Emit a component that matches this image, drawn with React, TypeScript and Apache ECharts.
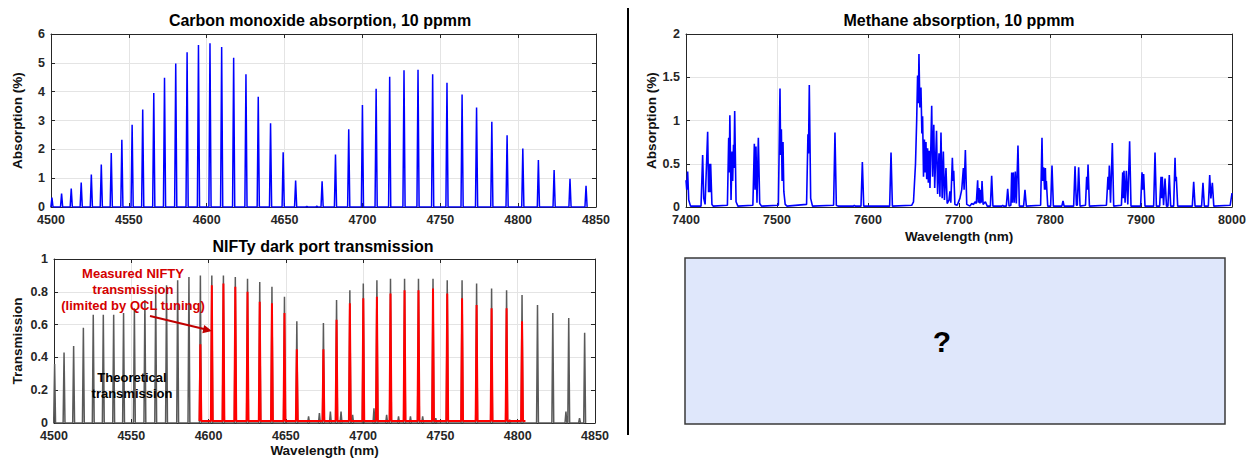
import React, { useEffect, useRef } from 'react';
import * as echarts from 'echarts';

const FONT = '"Liberation Sans", Arial, sans-serif';

// Carbon monoxide absorption lines (nm, % absorption)
const coLineNm = [
  4500.6, 4506.8, 4513.0, 4519.4, 4525.9, 4532.3, 4538.7, 4545.5, 4552.1, 4558.9, 4566.0, 4572.9,
  4580.1, 4587.4, 4594.7, 4602.1, 4609.6, 4617.3, 4625.2, 4633.1, 4641.0, 4649.1, 4657.1, 4664.3,
  4670.7, 4674.1, 4682.7, 4691.2, 4700.0, 4708.8, 4717.5, 4726.7, 4735.7, 4745.1, 4754.3, 4764.0,
  4773.3, 4783.1, 4792.9, 4803.0, 4813.0, 4823.1, 4833.3, 4843.6,
];
const coLinePct = [
  0.33, 0.47, 0.64, 0.85, 1.13, 1.47, 1.87, 2.33, 2.85, 3.38, 3.95, 4.48,
  4.98, 5.37, 5.62, 5.68, 5.55, 5.18, 4.6, 3.82, 2.9, 1.9, 0.92, 0.02,
  0.03, 0.89, 1.82, 2.7, 3.54, 4.1, 4.52, 4.74, 4.76, 4.6, 4.31, 3.9,
  3.45, 2.96, 2.49, 2.03, 1.63, 1.28, 0.98, 0.74,
];

// NIFTy theoretical transmission (grey)
const theoryNm = [
  4500.4, 4506.5, 4512.7, 4519.0, 4525.4, 4531.9, 4538.6, 4545.0, 4552.0, 4558.8, 4565.8, 4572.8,
  4580.0, 4587.3, 4594.7, 4602.1, 4609.6, 4617.3, 4625.2, 4633.1, 4641.0, 4649.1, 4657.1,
  4664.7, 4671.7, 4674.3, 4678.8, 4682.8, 4685.7, 4691.4, 4693.2, 4700.1, 4707.0, 4708.9, 4715.2,
  4717.7, 4722.9, 4726.8, 4730.6, 4735.8, 4738.5, 4745.2, 4747.0, 4754.4, 4764.0, 4773.4, 4783.1,
  4792.8, 4794.8, 4802.8, 4812.8, 4822.7, 4831.2, 4833.0, 4840.0, 4843.3,
];
const theoryT = [
  0.36, 0.43, 0.47, 0.58, 0.66, 0.66, 0.66, 0.67, 0.7, 0.75, 0.8, 0.84,
  0.87, 0.89, 0.9, 0.9, 0.9, 0.89, 0.88, 0.86, 0.83, 0.77, 0.62,
  0.04, 0.06, 0.61, 0.07, 0.75, 0.07, 0.81, 0.05, 0.85, 0.09, 0.87, 0.05,
  0.88, 0.04, 0.88, 0.04, 0.88, 0.04, 0.88, 0.03, 0.87, 0.87, 0.85, 0.82,
  0.81, 0.02, 0.78, 0.72, 0.67, 0.07, 0.64, 0.03, 0.55,
];

// NIFTy measured transmission (red)
const measuredNm = [
  4594.7, 4602.1, 4609.6, 4617.3, 4625.2, 4633.1, 4641.0, 4649.1, 4657.1,
  4674.3, 4682.8, 4691.4, 4700.1, 4708.9, 4717.7, 4726.8, 4735.8, 4745.2, 4754.4, 4764.0,
  4773.4, 4783.1, 4792.8, 4802.8,
];
const measuredT = [
  0.48, 0.84, 0.85, 0.83, 0.8, 0.74, 0.73, 0.67, 0.45,
  0.45, 0.63, 0.73, 0.76, 0.77, 0.79, 0.81, 0.81, 0.82, 0.79, 0.76,
  0.72, 0.7, 0.7, 0.62,
];

// Methane absorption trace (nm, %)
const methaneTrace: number[][] = [
  [7400, 0.31], [7400.8, 0.2], [7401.8, 0.41], [7403, 0.08], [7405, 0.01], [7416.5, 0.01],
  [7418.3, 0.6], [7419.5, 0.1], [7421, 0.03], [7423.8, 0.87], [7424.8, 0.17], [7425.6, 0.5],
  [7426.3, 0.17], [7427.1, 0.5], [7428.5, 0.03], [7430, 0.01], [7445.5, 0.02], [7446.9, 0.8],
  [7447.5, 0.4], [7448.2, 1.06], [7449.5, 0.08], [7450.6, 0.64], [7451.3, 0.3], [7452.2, 0.72],
  [7452.7, 0.45], [7453.5, 1.11], [7455, 0.06], [7457, 0.01], [7473.5, 0.02], [7475.1, 0.73],
  [7475.9, 0.2], [7476.9, 0.7], [7478, 0.05], [7479.5, 0.8], [7481, 0.04], [7483, 0.01],
  [7501.5, 0.02], [7503.3, 1.37], [7504, 0.6], [7504.8, 0.9], [7505.6, 0.3], [7506.6, 0.75],
  [7507.5, 0.18], [7509, 0.03], [7511, 0.01], [7532.5, 0.03], [7534, 0.84], [7534.6, 0.62],
  [7535.5, 1.41], [7537, 0.1], [7539, 0.01], [7562.2, 0.02], [7563.7, 0.86], [7565.2, 0.02],
  [7567, 0.01], [7584, 0.01], [7585, 0.02], [7586, 0.01], [7592.3, 0.01], [7593.8, 0.52],
  [7595.3, 0.01], [7623.8, 0.01], [7625.3, 0.63], [7626.8, 0.01], [7648, 0.02], [7650, 0.06],
  [7652.2, 0.5], [7653.5, 1.0], [7654.5, 1.52], [7655.3, 1.2], [7656.0, 1.77], [7657.0, 1.15],
  [7658.2, 1.38], [7659.2, 0.85], [7660.0, 1.05], [7661.0, 0.35], [7662.0, 0.78], [7662.8, 0.4],
  [7663.7, 0.75], [7664.5, 0.32], [7665.5, 0.68], [7666.3, 0.28], [7667.2, 0.65], [7668.1, 0.22],
  [7670.0, 1.17], [7671.0, 0.35], [7672.3, 0.95], [7673.3, 0.22], [7675.3, 0.88], [7676.5, 0.15],
  [7678.0, 0.62], [7679.0, 0.12], [7680.2, 0.86], [7681.5, 0.1], [7682.8, 0.64], [7684.0, 0.08],
  [7685.7, 0.45], [7687.0, 0.04], [7689, 0.08], [7690, 0.18], [7691, 0.05], [7692.7, 0.57],
  [7693.5, 0.3], [7694.2, 0.42], [7695.5, 0.03], [7698, 0.02], [7701, 0.1], [7703, 0.2],
  [7704.8, 0.45], [7705.6, 0.2], [7707.0, 0.66], [7708.5, 0.03], [7712, 0.01], [7714, 0.04],
  [7716, 0.03], [7717.5, 0.06], [7719, 0.04], [7720.5, 0.31], [7721.2, 0.05], [7722.0, 0.22],
  [7723.0, 0.04], [7723.8, 0.2], [7724.5, 0.05], [7725.3, 0.3], [7726.5, 0.03], [7729, 0.06],
  [7731, 0.01], [7734.5, 0.01], [7735.9, 0.36], [7737.3, 0.01], [7747, 0.01], [7748, 0.02],
  [7749, 0.01], [7752, 0.01], [7753.5, 0.21], [7755, 0.01], [7757, 0.02], [7757.9, 0.4],
  [7758.8, 0.05], [7759.7, 0.4], [7760.8, 0.05], [7761.9, 0.41], [7763, 0.04], [7764.8, 0.71],
  [7766.3, 0.01], [7771, 0.01], [7772.5, 0.2], [7774, 0.01], [7789.7, 0.02], [7791.2, 0.8],
  [7792, 0.3], [7793, 0.46], [7794, 0.2], [7794.9, 0.45], [7795.5, 0.2], [7796, 0.3],
  [7797.5, 0.01], [7800.7, 0.01], [7802.2, 0.48], [7803.7, 0.01], [7813, 0.01], [7814.3, 0.07],
  [7815.5, 0.01], [7826, 0.01], [7827.5, 0.47], [7829, 0.02], [7830, 0.02], [7831.5, 0.46],
  [7833, 0.01], [7839, 0.02], [7840.3, 0.35], [7841, 0.2], [7841.8, 0.49], [7843.3, 0.01],
  [7862, 0.02], [7863.7, 0.35], [7864.4, 0.2], [7865.2, 0.48], [7866.5, 0.05], [7868.5, 0.74],
  [7870, 0.01], [7878.5, 0.02], [7879.9, 0.4], [7880.6, 0.1], [7881.3, 0.42], [7882.5, 0.05],
  [7883.9, 0.42], [7885.5, 0.03], [7887.5, 0.76], [7889, 0.01], [7899.6, 0.01], [7901.1, 0.4],
  [7902, 0.2], [7902.9, 0.38], [7904.4, 0.01], [7913.9, 0.01], [7915.4, 0.63], [7916.9, 0.01],
  [7920.5, 0.01], [7922.0, 0.35], [7922.7, 0.1], [7923.4, 0.35], [7924.8, 0.02], [7926.4, 0.33],
  [7928, 0.01], [7929.6, 0.01], [7931.1, 0.37], [7932.6, 0.01], [7935.9, 0.01], [7937.4, 0.57],
  [7938.1, 0.3], [7938.8, 0.35], [7940.3, 0.01], [7956.4, 0.01], [7957.9, 0.29], [7959.4, 0.01],
  [7966.6, 0.01], [7968.1, 0.28], [7969.6, 0.01], [7974, 0.01], [7975.5, 0.37], [7976.8, 0.1],
  [7978.4, 0.28], [7980, 0.01], [7998, 0.02], [8000, 0.16],
];

// narrow line shape around each peak
const spikes = (nm: number[], h: number[], base: number, half: number) => {
  const pts: number[][] = [];
  nm.forEach((x, i) => {
    pts.push([x - half, base], [x, h[i]], [x + half, base]);
  });
  return pts;
};

const INK = '#262626';
const axisLine = { show: true, onZero: false, lineStyle: { color: INK, width: 1 } };
const tickIn = { show: true, inside: true, length: 4, lineStyle: { color: INK } };
const gridLine = { show: true, lineStyle: { color: '#e4e4e4', width: 1 } };
const tickLabel = {
  color: INK, fontSize: 12.5, fontWeight: 'bold', fontFamily: FONT, margin: 6,
  formatter: (v: number) => String(v),
};
const nameStyle = { color: '#111', fontSize: 13.5, fontWeight: 'bold', fontFamily: FONT };

const xPair = (grid: number, min: number, max: number, interval: number, name?: string, gap?: number) => [
  {
    type: 'value', gridIndex: grid, min, max, interval, position: 'bottom',
    axisLine, axisTick: tickIn, splitLine: gridLine, axisLabel: tickLabel,
    name, nameLocation: 'middle', nameGap: gap, nameTextStyle: nameStyle,
  },
  {
    type: 'value', gridIndex: grid, min, max, interval, position: 'top',
    axisLine, axisTick: tickIn, splitLine: { show: false }, axisLabel: { show: false },
  },
];

const yPair = (grid: number, min: number, max: number, interval: number, name: string, gap: number) => [
  {
    type: 'value', gridIndex: grid, min, max, interval, position: 'left',
    axisLine, axisTick: tickIn, splitLine: gridLine, axisLabel: tickLabel,
    name, nameLocation: 'middle', nameGap: gap, nameRotate: 90, nameTextStyle: nameStyle,
  },
  {
    type: 'value', gridIndex: grid, min, max, interval, position: 'right',
    axisLine, axisTick: tickIn, splitLine: { show: false }, axisLabel: { show: false },
  },
];

const title = (text: string, x: number, y: number) => ({
  type: 'text', x, y,
  style: { text, fill: '#000', font: `bold 16px ${FONT}`, align: 'center', verticalAlign: 'middle' },
});

export default function App() {
  const chartRef = useRef<HTMLDivElement>(null);

  useEffect(() => {
    document.body.style.margin = '0';
    if (!chartRef.current) return;
    const chart = echarts.init(chartRef.current, undefined, { renderer: 'svg' });

    const option: any = {
      animation: false,
      backgroundColor: '#fff',
      grid: [
        { left: 51, top: 34, width: 545, height: 173 },
        { left: 54, top: 259, width: 541, height: 164 },
        { left: 686, top: 34, width: 546, height: 173 },
      ],
      xAxis: [
        ...xPair(0, 4500, 4850, 50),
        ...xPair(1, 4500, 4850, 50, 'Wavelength (nm)', 20),
        ...xPair(2, 7400, 8000, 100, 'Wavelength (nm)', 22),
      ],
      yAxis: [
        ...yPair(0, 0, 6, 1, 'Absorption (%)', 27),
        ...yPair(1, 0, 1, 0.2, 'Transmission', 30),
        ...yPair(2, 0, 2, 0.5, 'Absorption (%)', 28),
      ],
      series: [
        {
          name: 'CO', type: 'line', xAxisIndex: 0, yAxisIndex: 0, showSymbol: false,
          data: spikes(coLineNm, coLinePct, 0, 0.7),
          lineStyle: { color: '#0000ff', width: 1.5 }, itemStyle: { color: '#0000ff' },
        },
        {
          name: 'Theoretical', type: 'line', xAxisIndex: 2, yAxisIndex: 2, showSymbol: false,
          data: spikes(theoryNm, theoryT, 0, 0.6),
          lineStyle: { color: '#5a5a5a', width: 1.5 }, itemStyle: { color: '#5a5a5a' },
        },
        {
          name: 'Measured', type: 'line', xAxisIndex: 2, yAxisIndex: 2, showSymbol: false,
          data: [...spikes(measuredNm, measuredT, 0.012, 0.6), [4805, 0.012]],
          lineStyle: { color: '#ff0000', width: 2 }, itemStyle: { color: '#ff0000' },
        },
        {
          name: 'Methane', type: 'line', xAxisIndex: 4, yAxisIndex: 4, showSymbol: false,
          data: methaneTrace,
          lineStyle: { color: '#0000ff', width: 1.6 }, itemStyle: { color: '#0000ff' },
        },
      ],
      graphic: [
        title('Carbon monoxide absorption, 10 ppmm', 320, 20),
        title('NIFTy dark port transmission', 323, 246),
        title('Methane absorption, 10 ppmm', 959, 20),
        {
          type: 'line', shape: { x1: 628, y1: 8, x2: 628, y2: 435 },
          style: { stroke: '#000', lineWidth: 2 },
        },
        {
          type: 'rect', shape: { x: 685, y: 258, width: 540, height: 166 },
          style: { fill: '#dfe7fb', stroke: '#3a3a3a', lineWidth: 1.5 },
        },
        {
          type: 'text', x: 942, y: 341,
          style: { text: '?', fill: '#000', font: `bold 30px ${FONT}`, align: 'center', verticalAlign: 'middle' },
        },
        {
          type: 'text', x: 133, y: 289, z: 10,
          style: {
            text: 'Measured NIFTY\ntransmission\n(limited by QCL tuning)', fill: '#d40000',
            font: `bold 13px ${FONT}`, align: 'center', verticalAlign: 'middle', lineHeight: 16,
          },
        },
        {
          type: 'text', x: 132, y: 385, z: 10,
          style: {
            text: 'Theoretical\ntransmission', fill: '#000',
            font: `bold 13px ${FONT}`, align: 'center', verticalAlign: 'middle', lineHeight: 16,
          },
        },
        {
          type: 'line', z: 10, shape: { x1: 150, y1: 316, x2: 204, y2: 329 },
          style: { stroke: '#c00000', lineWidth: 2 },
        },
        {
          type: 'polygon', z: 10, shape: { points: [[212, 331], [202.3, 333.2], [204.2, 325.0]] },
          style: { fill: '#c00000' },
        },
      ],
    };

    chart.setOption(option);
    return () => chart.dispose();
  }, []);

  return <div ref={chartRef} style={{ width: 1253, height: 458 }} />;
}
